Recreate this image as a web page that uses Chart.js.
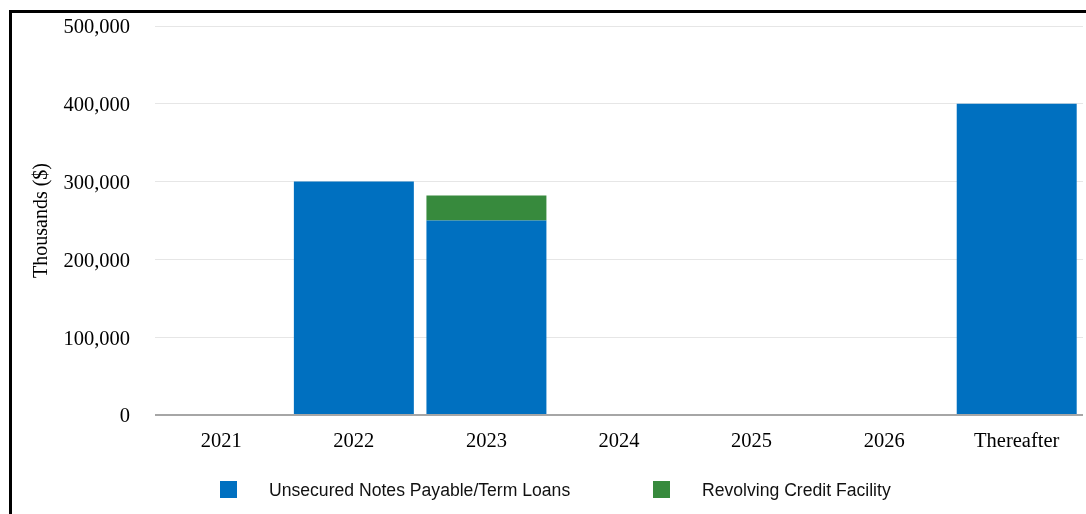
<!DOCTYPE html>
<html><head><meta charset="utf-8">
<script src="https://cdn.jsdelivr.net/npm/chart.js@4"></script>
<style>
html,body{margin:0;padding:0;background:#fff;}
#wrap{position:absolute;left:0;top:0;width:1086px;height:514px;}
#frame{position:absolute;left:9px;top:10px;width:1100px;height:520px;border-top:3px solid #000;border-left:3px solid #000;pointer-events:none;}
</style></head>
<body>
<div id="wrap"><canvas id="c" width="1086" height="514"></canvas></div>
<div id="frame"></div>
<script>
const categories = ["2021","2022","2023","2024","2025","2026","Thereafter"];
const unsecuredNotes = [0, 300000, 250000, 0, 0, 0, 400000];
const revolvingCredit = [0, 0, 32000, 0, 0, 0, 0];
const seriesNames = ["Unsecured Notes Payable/Term Loans", "Revolving Credit Facility"];
const seriesColors = ["#0070c0", "#378a3d"];
const yTicks = [0, 100000, 200000, 300000, 400000, 500000];

const serif = '"Liberation Serif", "Times New Roman", serif';

const legendPlugin = {
  id: 'customLegend',
  afterDraw(chart) {
    const ctx = chart.ctx;
    const xs = [220, 653];
    ctx.save();
    chart.data.datasets.forEach((ds, i) => {
      ctx.fillStyle = ds.backgroundColor;
      ctx.fillRect(xs[i], 481, 17, 17);
      ctx.fillStyle = '#111';
      ctx.font = '17.6px "Liberation Sans", Arial, sans-serif';
      ctx.textBaseline = 'middle';
      ctx.textAlign = 'left';
      ctx.fillText(ds.label, xs[i] + 49, 491);
    });
    ctx.restore();
  }
};

new Chart(document.getElementById('c'), {
  type: 'bar',
  data: {
    labels: categories,
    datasets: [
      { label: seriesNames[0], data: unsecuredNotes, backgroundColor: seriesColors[0], barPercentage: 0.905, categoryPercentage: 1.0 },
      { label: seriesNames[1], data: revolvingCredit, backgroundColor: seriesColors[1], barPercentage: 0.905, categoryPercentage: 1.0 }
    ]
  },
  options: {
    responsive: false,
    animation: false,
    layout: { padding: { left: 26, right: 3, top: 26, bottom: 59 } },
    plugins: { legend: { display: false }, tooltip: { enabled: false } },
    scales: {
      x: {
        stacked: true,
        grid: { display: false, drawTicks: false },
        border: { display: false },
        ticks: { color: '#000', padding: 14, font: { family: serif, size: 20.5 } },
        afterFit(s) { s.height = 40; }
      },
      y: {
        stacked: true,
        min: 0, max: 500000,
        afterBuildTicks(s) { s.ticks = yTicks.map(v => ({ value: v })); },
        grid: {
          drawTicks: true,
          tickLength: 24,
          tickColor: 'rgba(0,0,0,0)',
          color: (c) => c.tick && c.tick.value === 0 ? '#a6a6a6' : '#e6e6e6',
          lineWidth: (c) => c.tick && c.tick.value === 0 ? 2 : 1
        },
        border: { display: false },
        ticks: {
          color: '#000', padding: 1, labelOffset: 2,
          font: { family: serif, size: 20.5 },
          callback: (v) => v.toLocaleString('en-US')
        },
        title: {
          display: true, text: 'Thousands ($)', color: '#000',
          font: { family: serif, size: 20 },
          padding: { top: 4, bottom: 4 }
        },
        afterFit(s) { s.width = 129; }
      }
    }
  },
  plugins: [legendPlugin]
});
</script>
</body></html>
